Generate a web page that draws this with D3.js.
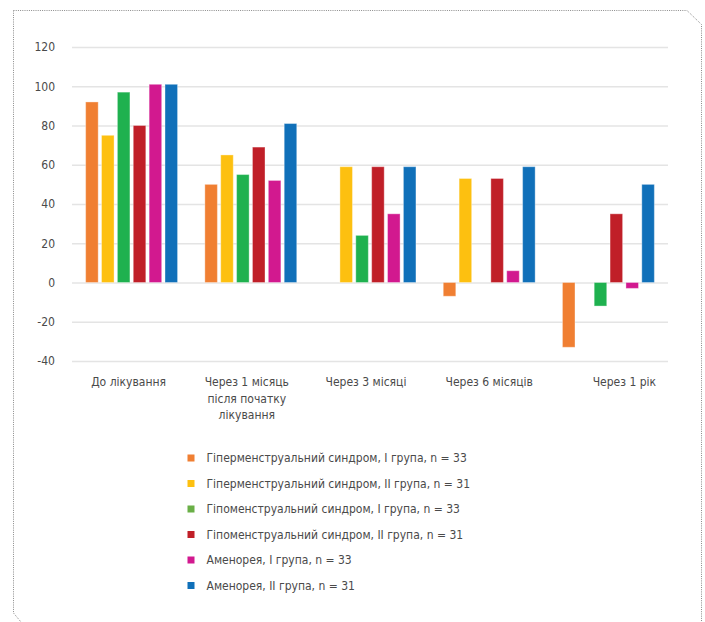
<!DOCTYPE html>
<html>
<head>
<meta charset="utf-8">
<script src="https://cdn.jsdelivr.net/npm/d3@7"></script>
<style>
  html, body { margin: 0; padding: 0; background: #fff; }
  svg { display: block; }
  text { font-family: "DejaVu Sans Condensed", "Liberation Sans Narrow", "Noto Sans", sans-serif; fill: #4a4a4a; }
</style>
</head>
<body>
<svg id="chart" width="705" height="622"></svg>
<script>
// Time points after start of treatment
const categories = [
  ["До лікування"],
  ["Через 1 місяць", "після початку", "лікування"],
  ["Через 3 місяці"],
  ["Через 6 місяців"],
  ["Через 1 рік"]
];

const seriesNames = [
  "Гіперменструальний синдром, I група, n = 33",
  "Гіперменструальний синдром, II група, n = 31",
  "Гіпоменструальний синдром, I група, n = 33",
  "Гіпоменструальний синдром, II група, n = 31",
  "Аменорея, I група, n = 33",
  "Аменорея, II група, n = 31"
];

// One array per series, one value per time point (null = no bar)
const hyperI  = [92, 50, null, -7, -33];
const hyperII = [75, 65, 59, 53, null];
const hypoI   = [97, 55, 24, null, -12];
const hypoII  = [80, 69, 59, 53, 35];
const amenI   = [101, 52, 35, 6, -3];
const amenII  = [101, 81, 59, 59, 50];
const seriesValues = [hyperI, hyperII, hypoI, hypoII, amenI, amenII];

const barColors    = ["#f07f32", "#fdc010", "#1fb14f", "#c01f28", "#d2198f", "#1070b9"];
const legendColors = ["#f07f32", "#fdc010", "#6aaf47", "#c01f28", "#d2198f", "#1070b9"];

const yTicks = [-40, -20, 0, 20, 40, 60, 80, 100, 120];

const FONT = 12;
const svg = d3.select("#chart");

// Dotted frame with clipped top-right and bottom-left corners
svg.append("path")
  .attr("d", "M13.5,10.5 L687,10.5 L701.5,24.5 L701.5,622 M13.5,10.5 L13.5,613 L21,622")
  .attr("fill", "none")
  .attr("stroke", "#8a8a8a")
  .attr("stroke-width", 1)
  .attr("stroke-dasharray", "1 1.2");

const left = 72, right = 668;
const y = d3.scaleLinear().domain([-40, 120]).range([361, 47]);

const x0 = d3.scaleBand()
  .domain(d3.range(categories.length))
  .range([left, right])
  .paddingInner(0).paddingOuter(0);

const x1 = d3.scaleBand()
  .domain(d3.range(seriesNames.length))
  .range([0, x0.bandwidth()])
  .paddingInner(0.21)
  .paddingOuter(0.86);

// Horizontal grid with value labels
const yAxis = d3.axisLeft(y)
  .tickValues(yTicks)
  .tickFormat(d => String(d))
  .tickSize(-(right - left))
  .tickPadding(17);
const gy = svg.append("g").attr("transform", `translate(${left},0)`).call(yAxis);
gy.select(".domain").remove();
gy.selectAll(".tick line").attr("stroke", "#e4e4e4").attr("stroke-width", 1.6);
gy.selectAll(".tick text")
  .attr("font-size", FONT)
  .style("font-family", '"DejaVu Sans Condensed", sans-serif')
  .attr("fill", "#4a4a4a");

// Bars
const groups = svg.append("g").selectAll("g")
  .data(seriesValues)
  .join("g")
  .attr("fill", (d, i) => barColors[i]);

groups.selectAll("rect")
  .data((vals, si) => vals.map((v, ci) => ({ v, ci, si })).filter(d => d.v !== null))
  .join("rect")
  .attr("x", d => x0(d.ci) + x1(d.si))
  .attr("width", x1.bandwidth())
  .attr("y", d => y(Math.max(0, d.v)))
  .attr("height", d => Math.abs(y(d.v) - y(0)))
  .attr("stroke", "rgba(255,255,255,0.35)")
  .attr("stroke-width", 1);

// Category labels
const labelNudge = [-3, -4, -4, 0, 16];
const cat = svg.append("g").selectAll("text")
  .data(categories)
  .join("text")
  .attr("text-anchor", "middle")
  .attr("font-size", FONT)
  .attr("transform", (d, i) => `translate(${x0(i) + x0.bandwidth() / 2 + labelNudge[i]},386)`);
cat.selectAll("tspan")
  .data(d => d)
  .join("tspan")
  .attr("x", 0)
  .attr("dy", (d, i) => i === 0 ? 0 : 16.5)
  .text(d => d);

// Legend
const legend = svg.append("g").selectAll("g")
  .data(seriesNames)
  .join("g")
  .attr("transform", (d, i) => `translate(187.5,${458 + i * 25.5})`);
legend.append("rect")
  .attr("x", 0).attr("y", -3.5)
  .attr("width", 7).attr("height", 7)
  .attr("fill", (d, i) => legendColors[i]);
legend.append("text")
  .attr("x", 19)
  .attr("dy", "0.36em")
  .attr("font-size", FONT)
  .text(d => d);
</script>
</body>
</html>
